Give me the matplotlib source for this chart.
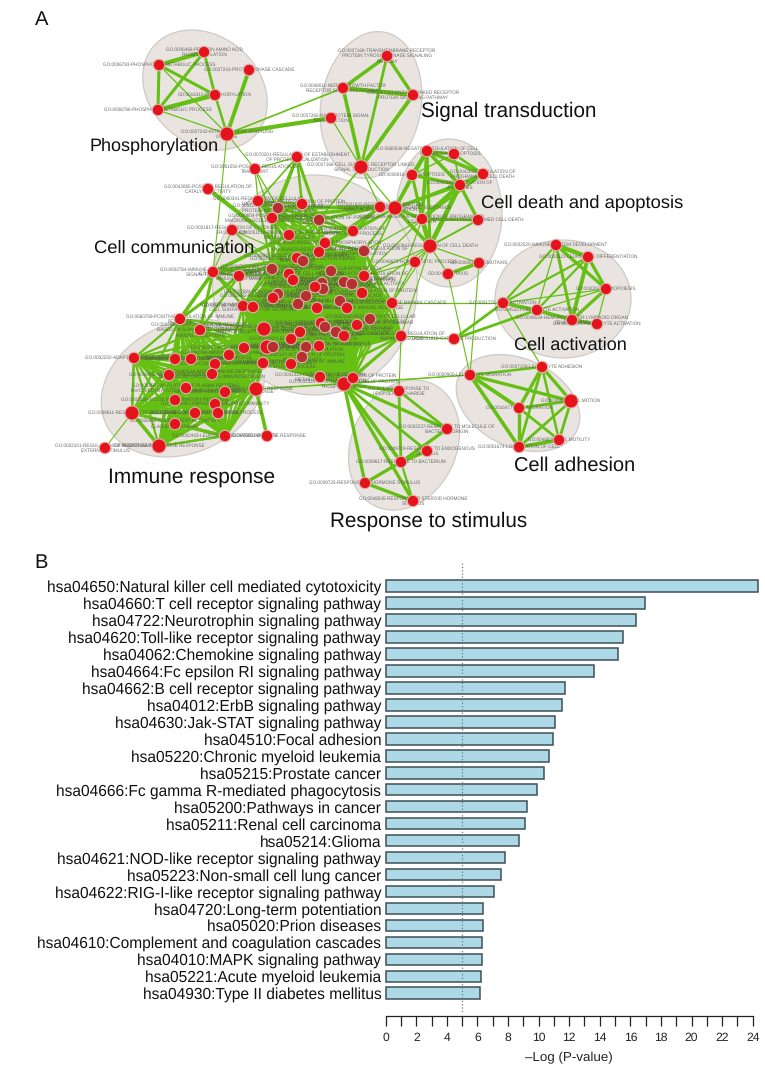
import itertools
import matplotlib
matplotlib.use('Agg')
import matplotlib.pyplot as plt
from matplotlib.collections import LineCollection
from matplotlib.patches import Ellipse

plt.rcParams['font.family'] = ['Liberation Sans', 'DejaVu Sans']
plt.rcParams['text.hinting'] = 'none'

# --- panel A: node positions, in image pixels ---
phos_x = [204, 159, 249, 215, 158, 227]
phos_y = [52, 65, 70, 95, 110, 134]
phos_labels = ['GO:0006468-PROTEIN AMINO ACID\nPHOSPHORYLATION',
               'GO:0006793-PHOSPHORUS METABOLIC PROCESS',
               'GO:0007243-PROTEIN KINASE CASCADE',
               'GO:0016310-PHOSPHORYLATION',
               'GO:0006796-PHOSPHATE METABOLIC PROCESS',
               'GO:0007242-INTRACELLULAR SIGNALING\nCASCADE']

sig_x = [387, 343, 413, 331, 361]
sig_y = [56, 88, 95, 118, 167]
sig_labels = ['GO:0007169-TRANSMEMBRANE RECEPTOR\nPROTEIN TYROSINE KINASE SIGNALING\nPATHWAY',
              'GO:0048011-NERVE GROWTH FACTOR\nRECEPTOR SIGNALING PATHWAY',
              'GO:0007167-ENZYME LINKED RECEPTOR\nPROTEIN SIGNALING PATHWAY',
              'GO:0007265-RAS PROTEIN SIGNAL\nTRANSDUCTION',
              'GO:0007166-CELL SURFACE RECEPTOR LINKED\nSIGNAL TRANSDUCTION']

death_x = [427, 454, 412, 483, 460, 422, 478, 430, 415, 479, 448]
death_y = [151, 154, 175, 174, 185, 219, 220, 246, 262, 263, 274]
death_labels = ['GO:0060548-NEGATIVE REGULATION OF CELL\nDEATH',
                'GO:0006915-APOPTOSIS',
                'GO:0006916-ANTI-APOPTOSIS',
                'GO:0043067-REGULATION OF\nPROGRAMMED CELL DEATH',
                'GO:0042981-REGULATION OF\nAPOPTOSIS',
                'GO:0043069-NEGATIVE REGULATION OF PROGRAMMED\nCELL DEATH',
                'GO:0012501-PROGRAMMED CELL DEATH',
                'GO:0010941-REGULATION OF CELL DEATH',
                'GO:0048872-HOMEOSTATIC PROCESS',
                'GO:0006935-CHEMOTAXIS',
                'GO:0042330-TAXIS']

act_x = [556, 588, 606, 503, 537, 572, 597]
act_y = [245, 257, 289, 303, 310, 320, 324]
act_labels = ['GO:0002520-IMMUNE SYSTEM DEVELOPMENT',
              'GO:0002521-LEUKOCYTE DIFFERENTIATION',
              'GO:0030097-HEMOPOIESIS',
              'GO:0001775-CELL ACTIVATION',
              'GO:0045321-LEUKOCYTE ACTIVATION',
              'GO:0048534-HEMOPOIETIC OR LYMPHOID ORGAN\nDEVELOPMENT',
              'GO:0046649-LYMPHOCYTE ACTIVATION']

adh_x = [470, 542, 571, 519, 559, 519]
adh_y = [375, 367, 401, 408, 440, 447]
adh_labels = ['GO:0050900-LEUKOCYTE MIGRATION',
              'GO:0007159-LEUKOCYTE ADHESION',
              'GO:0006928-CELL MOTION',
              'GO:0016477-CELL MIGRATION',
              'GO:0048870-CELL MOTILITY',
              'GO:0051674-LOCALIZATION OF CELL']

resp_x = [399, 447, 427, 401, 365, 413]
resp_y = [391, 429, 451, 462, 483, 501]
resp_labels = ['GO:0032496-RESPONSE TO\nLIPOPOLYSACCHARIDE',
               'GO:0002237-RESPONSE TO MOLECULE OF\nBACTERIAL ORIGIN',
               'GO:0009719-RESPONSE TO ENDOGENOUS\nSTIMULUS',
               'GO:0009617-RESPONSE TO BACTERIUM',
               'GO:0009725-RESPONSE TO HORMONE STIMULUS',
               'GO:0048545-RESPONSE TO STEROID HORMONE\nSTIMULUS']

upper_x = [297, 255, 208, 258, 278, 302, 272, 319, 232, 380, 395, 454]
upper_y = [157, 169, 189, 201, 208, 204, 218, 220, 230, 207, 208, 339]
upper_labels = ['GO:0070201-REGULATION OF ESTABLISHMENT\nOF PROTEIN LOCALIZATION',
                'GO:0051050-POSITIVE REGULATION OF\nTRANSPORT',
                'GO:0043085-POSITIVE REGULATION OF\nCATALYTIC ACTIVITY',
                'GO:0060341-REGULATION OF CELLULAR\nLOCALIZATION',
                'GO:0051246-REGULATION OF CELLULAR\nPROTEIN METABOLIC PROCESS',
                'GO:0031399-REGULATION OF PROTEIN\nMODIFICATION PROCESS',
                'GO:0010604-POSITIVE REGULATION OF\nMACROMOLECULE METABOLIC PROCESS',
                'GO:0031401-POSITIVE REGULATION OF PROTEIN\nMODIFICATION',
                'GO:0001817-REGULATION OF CYTOKINE\nPRODUCTION',
                'GO:0001932-REGULATION OF PROTEIN\nAMINO ACID PHOSPHORYLATION',
                'GO:0010033-RESPONSE TO ORGANIC SUBSTANCE',
                'GO:0001816-CYTOKINE PRODUCTION']

core_x = [289, 325, 319, 364, 297, 303, 272, 289, 293, 331, 364, 344, 352, 322, 323, 315, 362,
          278, 273, 306, 298, 340, 347, 392, 317, 243, 253, 264, 321, 325, 370, 357, 300, 336,
          344, 401, 291, 267, 273, 306, 319, 302, 291, 263, 320, 344, 353, 244, 229, 353]
core_y = [235, 243, 252, 251, 258, 261, 269, 274, 280, 271, 276, 282, 284, 283, 289, 287, 293,
          294, 298, 296, 304, 301, 308, 303, 308, 306, 307, 329, 323, 327, 319, 325, 332, 332,
          336, 336, 339, 347, 347, 347, 346, 357, 364, 363, 377, 384, 378, 348, 355, 231]
core_labels = ['GO:0051174-REGULATION OF PHOSPHORUS\nMETABOLIC PROCESS',
               'GO:0042325-REGULATION OF PHOSPHORYLATION',
               'GO:0019220-REGULATION OF PHOSPHATE\nMETABOLIC PROCESS',
               'GO:0042327-POSITIVE REGULATION OF\nPHOSPHORYLATION',
               'GO:0009967-POSITIVE REGULATION OF SIGNAL\nTRANSDUCTION',
               'GO:0010627-REGULATION OF PROTEIN KINASE\nCASCADE',
               'GO:0002757-IMMUNE RESPONSE-ACTIVATING\nSIGNAL TRANSDUCTION',
               'GO:0050865-REGULATION OF CELL ACTIVATION',
               'GO:0002696-POSITIVE REGULATION OF\nLEUKOCYTE ACTIVATION',
               'GO:0050867-POSITIVE REGULATION OF CELL\nACTIVATION',
               'GO:0051251-POSITIVE REGULATION OF\nLYMPHOCYTE ACTIVATION',
               'GO:0045859-REGULATION OF PROTEIN KINASE\nACTIVITY',
               'GO:0043549-REGULATION OF KINASE ACTIVITY',
               'GO:0051338-REGULATION OF TRANSFERASE\nACTIVITY',
               'GO:0033674-POSITIVE REGULATION OF KINASE\nACTIVITY',
               'GO:0045860-POSITIVE REGULATION OF PROTEIN\nKINASE ACTIVITY',
               'GO:0010740-POSITIVE REGULATION OF PROTEIN\nKINASE CASCADE',
               'GO:0002684-POSITIVE REGULATION OF IMMUNE\nSYSTEM PROCESS',
               'GO:0002682-REGULATION OF IMMUNE SYSTEM\nPROCESS',
               'GO:0007249-I-KAPPAB KINASE/NF-KAPPAB\nCASCADE',
               'GO:0043123-POSITIVE REGULATION OF I-KAPPAB\nKINASE/NF-KAPPAB CASCADE',
               'GO:0006954-INFLAMMATORY RESPONSE',
               'GO:0050776-REGULATION OF IMMUNE RESPONSE',
               'GO:0043408-REGULATION OF MAPKKK CASCADE',
               'GO:0000165-MAPKKK CASCADE',
               'GO:0007167-MONOCYTE ACTIVATION',
               'GO:0002768-IMMUNE RESPONSE-REGULATING\nCELL SURFACE RECEPTOR SIGNALING',
               'GO:0002429-IMMUNE RESPONSE-ACTIVATING CELL\nSURFACE RECEPTOR SIGNALING PATHWAY',
               'GO:0050863-REGULATION OF T CELL ACTIVATION',
               'GO:0051249-REGULATION OF LYMPHOCYTE\nACTIVATION',
               'GO:0032268-REGULATION OF CELLULAR\nPROTEIN METABOLIC PROCESS',
               'GO:0032270-POSITIVE REGULATION OF CELLULAR\nPROTEIN METABOLIC PROCESS',
               'GO:0002694-REGULATION OF LEUKOCYTE\nACTIVATION',
               'GO:0051247-POSITIVE REGULATION OF PROTEIN\nMETABOLIC PROCESS',
               'GO:0007243-PROTEIN KINASE CASCADE\nACTIVATION',
               'GO:0043410-POSITIVE REGULATION OF\nMAPKKK CASCADE',
               'GO:0002443-LEUKOCYTE ACTIVATION',
               'GO:0042113-B CELL ACTIVATION',
               'GO:0042110-T CELL ACTIVATION',
               'GO:0001934-POSITIVE REGULATION OF PROTEIN\nAMINO ACID PHOSPHORYLATION',
               'GO:0006468-ACTIVATION OF PROTEIN KINASE\nACTIVITY',
               'GO:0032147-ACTIVATION OF PROTEIN\nKINASE ACTIVITY',
               'GO:0050778-POSITIVE REGULATION OF IMMUNE\nRESPONSE PROCESS',
               'GO:0002252-IMMUNE EFFECTOR PROCESS',
               'GO:0031323-REGULATION OF CELLULAR\nMETABOLIC PROCESS',
               'GO:0031325-POSITIVE REGULATION OF PROTEIN\nPHOSPHORYLATION',
               'GO:0001817-REGULATION OF PROTEIN\nSECRETION',
               'GO:0002253-ACTIVATION OF IMMUNE RESPONSE',
               'GO:0002764-IMMUNOGLOBULIN MEDIATED\nIMMUNE RESPONSE',
               'GO:0031328-REGULATION OF\nBIOSYNTHETIC PROCESS']
core_dark = [3, 5, 6, 9, 11, 12, 13, 14, 17, 19, 20, 21, 30, 29, 33, 39, 38, 41]

imm_x = [213, 239, 180, 200, 134, 175, 191, 215, 169, 212, 186, 225, 256, 175, 132, 215, 218,
         195, 175, 225, 267, 159, 105]
imm_y = [272, 276, 319, 330, 358, 359, 359, 364, 375, 374, 388, 392, 389, 400, 413, 404, 413,
         413, 424, 436, 436, 446, 448]
imm_labels = ['GO:0002764-IMMUNE RESPONSE-REGULATING\nSIGNAL TRANSDUCTION',
              'GO:0002218-ACTIVATION OF INNATE\nIMMUNE RESPONSE',
              'GO:0060759-POSITIVE REGULATION OF IMMUNE\nRESPONSE',
              'GO:0002460-ADAPTIVE IMMUNE RESPONSE\nBASED ON SOMATIC RECOMBINATION\nIMMUNE RECEPTORS',
              'GO:0002250-ADAPTIVE IMMUNE RESPONSE',
              'GO:0016064-IMMUNOGLOBULIN MEDIATED',
              'GO:0019724-B CELL MEDIATED IMMUNITY',
              'GO:0006956-COMPLEMENT ACTIVATION',
              'GO:0019882-ANTIGEN PROCESSING',
              'GO:0002455-HUMORAL IMMUNE RESPONSE\nMEDIATED BY CIRCULATING IMMUNOGLOBULIN',
              'GO:0002541-ACTIVATION OF PLASMA PROTEINS\nINVOLVED IN ACUTE INFLAMMATORY RESPONSE',
              'GO:0006959-HUMORAL IMMUNE RESPONSE',
              'GO:0006955-IMMUNE RESPONSE',
              'GO:0002526-ACUTE INFLAMMATORY RESPONSE',
              'GO:0009611-RESPONSE TO WOUNDING',
              'GO:0002449-LYMPHOCYTE MEDIATED IMMUNITY',
              'GO:0045321-INNATE IMMUNE PROCESS',
              'GO:0006958-COMPLEMENT ACTIVATION,',
              'GO:0006958-COMPLEMENT ACTIVATION,\nCLASSICAL PATHWAY',
              'GO:0002443-LEUKOCYTE MEDIATED IMMUNITY',
              'GO:0006952-DEFENSE RESPONSE',
              'GO:0045087-INNATE IMMUNE RESPONSE',
              'GO:0002101-REGULATION OF RESPONSE TO\nEXTERNAL STIMULUS']

big_nodes = ['ph5', 'si4', 'up10', 'de7', 'im12', 'co27', 'co37', 'co45', 'im14', 'im21', 'ad2']

# edges inside the clusters: (from, to, width in points)
edges = [
    ('ph0', 'ph1', 3.0), ('ph0', 'ph3', 2.0), ('ph0', 'ph4', 2.2), ('ph1', 'ph3', 2.2), ('ph1', 'ph4', 2.2),
    ('ph3', 'ph4', 3.2), ('ph2', 'ph5', 2.8), ('ph3', 'ph5', 1.8), ('ph1', 'ph5', 0.9), ('ph4', 'ph5', 0.9),
    ('ph5', 'si3', 3.0), ('ph5', 'si1', 1.2), ('ph5', 'im0', 0.8), ('ph5', 'up1', 0.8),
    ('si0', 'si1', 2.6), ('si0', 'si2', 2.4), ('si0', 'si4', 2.0), ('si1', 'si2', 3.0), ('si1', 'si4', 2.6),
    ('si2', 'si4', 2.8), ('si3', 'si4', 0.9), ('si4', 'up7', 1.2), ('si4', 'up10', 0.9), ('si4', 'up9', 0.9),
    ('de0', 'de2', 2.8), ('de0', 'de4', 2.6), ('de0', 'de5', 2.6), ('de0', 'de7', 2.2), ('de0', 'de1', 1.8),
    ('de0', 'de3', 2.6), ('de1', 'de3', 1.8), ('de1', 'de4', 1.2), ('de3', 'de4', 2.4), ('de2', 'de4', 2.4),
    ('de2', 'de5', 2.0), ('de2', 'de7', 1.6), ('de4', 'de5', 3.2), ('de4', 'de7', 3.4), ('de5', 'de7', 3.4),
    ('de4', 'de6', 2.4), ('de5', 'de6', 2.0), ('de6', 'de7', 1.4), ('de3', 'de5', 1.6), ('de1', 'de2', 1.0),
    ('de7', 'up10', 2.6), ('de0', 'up10', 2.6), ('de4', 'up10', 2.6), ('de5', 'up10', 2.6), ('de2', 'up10', 1.8),
    ('de3', 'up10', 1.4), ('de7', 'de9', 0.9), ('de9', 'de10', 2.6), ('de7', 'de10', 0.9), ('de7', 'de8', 0.9),
    ('de10', 'ad0', 0.8), ('de9', 'ad0', 0.8),
    ('ac0', 'ac1', 3.2), ('ac0', 'ac2', 2.4), ('ac0', 'ac5', 2.2), ('ac0', 'ac4', 0.9), ('ac0', 'ac3', 1.6),
    ('ac1', 'ac2', 2.4), ('ac1', 'ac5', 2.8), ('ac1', 'ac3', 1.6), ('ac1', 'ac4', 1.6), ('ac2', 'ac5', 2.4),
    ('ac2', 'ac3', 0.9), ('ac2', 'ac6', 0.9), ('ac2', 'ac4', 0.9), ('ac3', 'ac4', 2.4), ('ac3', 'ac5', 1.6),
    ('ac4', 'ac5', 2.4), ('ac5', 'ac6', 2.4), ('ac4', 'ac6', 0.9), ('ac3', 'up11', 2.0), ('ac4', 'up11', 2.0),
    ('ac3', 'ad1', 0.9), ('ac3', 'co23', 0.9), ('up11', 'co35', 0.9), ('ad0', 'co45', 0.8),
    ('ad0', 'ad1', 1.8), ('ad0', 'ad2', 2.4), ('ad0', 'ad3', 2.8), ('ad0', 'ad5', 2.6), ('ad1', 'ad2', 2.4),
    ('ad1', 'ad3', 2.4), ('ad1', 'ad4', 1.8), ('ad1', 'ad5', 2.0), ('ad2', 'ad3', 2.0), ('ad2', 'ad4', 2.0),
    ('ad2', 'ad5', 2.0), ('ad3', 'ad4', 2.0), ('ad3', 'ad5', 2.4), ('ad4', 'ad5', 2.6),
    ('co45', 're0', 2.4), ('co45', 're1', 2.4), ('co45', 're2', 2.0), ('co45', 're3', 2.6), ('co45', 're4', 2.4),
    ('co45', 're5', 2.4), ('re0', 're1', 2.0), ('re0', 're3', 2.0), ('re1', 're3', 2.4), ('re2', 're3', 2.6),
    ('re3', 're4', 2.4), ('re3', 're5', 1.6), ('re4', 're5', 2.4), ('co35', 're0', 0.8),
    ('up0', 'up1', 0.9), ('up0', 'up3', 1.2), ('up0', 'up4', 2.2), ('up0', 'up6', 2.2), ('up0', 'up5', 1.8),
    ('up0', 'up7', 2.2), ('up1', 'up3', 0.9), ('up1', 'up4', 0.9), ('up1', 'up6', 0.9), ('up2', 'co4', 3.0),
    ('up8', 'co6', 0.8), ('up8', 'co4', 0.8), ('up8', 'co7', 0.8), ('up8', 'im0', 0.8), ('up9', 'up6', 2.6),
    ('up9', 'up4', 2.6), ('up9', 'up7', 2.2), ('up9', 'co49', 1.8), ('up9', 'co1', 1.4), ('up9', 'co2', 1.4),
    ('up10', 'co49', 1.4), ('up10', 'co3', 1.4), ('up10', 'co10', 1.2), ('up10', 'co1', 1.2), ('up10', 'co2', 1.2),
    ('de5', 'co3', 0.9), ('de5', 'co10', 0.9), ('de5', 'co23', 0.9), ('de7', 'co10', 0.9), ('de7', 'co16', 0.9),
    ('de7', 'co23', 0.9), ('de7', 'co35', 0.8), ('de8', 'co10', 0.9), ('de8', 'co23', 0.9),
    ('im0', 'co0', 2.6), ('im0', 'co4', 2.6), ('im0', 'co6', 1.8), ('im0', 'im2', 2.6), ('im0', 'im3', 2.2),
    ('im0', 'co25', 1.6), ('im0', 'co26', 1.6), ('im0', 'im1', 1.6), ('im0', 'co27', 1.6), ('im1', 'im2', 2.2),
    ('im1', 'im3', 1.6), ('im1', 'co4', 2.2), ('im1', 'co25', 1.2), ('im1', 'co7', 1.4), ('im2', 'im4', 0.8),
    ('im12', 'im20', 2.6), ('im12', 'im19', 2.6), ('im14', 'im21', 2.6), ('im14', 'im22', 0.8), ('im19', 'im21', 1.4),
    ('im12', 'co45', 0.8), ('im12', 'ad0', 0.8),
    ('im21', 'im9', 2.6), ('im21', 'im10', 2.6), ('im21', 'im13', 2.6), ('im21', 'im15', 2.6), ('im21', 'im16', 2.6),
    ('im21', 'im17', 2.6), ('im19', 'im9', 2.4), ('im19', 'im10', 2.4), ('im19', 'im15', 2.4), ('im19', 'im13', 2.4),
    ('im19', 'im18', 2.4), ('im14', 'im10', 2.2), ('im14', 'im13', 2.2), ('im14', 'im15', 2.2), ('im14', 'im19', 2.2),
    ('im4', 'im9', 1.6), ('im4', 'im11', 1.6), ('im4', 'im14', 1.6), ('im12', 'im3', 2.0), ('im12', 'im2', 1.6),
]

# groups where nearly every node is linked to every other one
upper_group = ['up3', 'up4', 'up5', 'up6', 'up7', 'co0', 'co1', 'co2', 'co4', 'co6', 'co49']
core_group = ['co%d' % i for i in range(50) if i != 49]
immune_group = ['im2', 'im3', 'im4', 'im5', 'im6', 'im7', 'im8', 'im9', 'im10', 'im11', 'im12', 'im13',
                'im14', 'im15', 'im16', 'im17', 'im18', 'im19', 'im21', 'co27', 'co37', 'co43', 'co47', 'co48']

# ellipses behind the clusters: centre x, centre y, width, height, angle
blob_x = [205, 371, 449, 563, 518, 404, 183, 315]
blob_y = [90, 105, 213, 299, 403, 445, 388, 285]
blob_w = [135, 100, 106, 136, 130, 105, 170, 205]
blob_h = [108, 148, 148, 118, 88, 135, 130, 220]
blob_angle = [40, 10, 0, 0, 25, 25, -25, 0]

cluster_names = ['Phosphorylation', 'Signal transduction', 'Cell death and apoptosis', 'Cell communication',
                 'Cell activation', 'Cell adhesion', 'Immune response', 'Response to stimulus']
cluster_x = [90, 421, 481, 94, 514, 514, 108, 330]
cluster_y = [146, 111, 203, 248, 345, 466, 477, 521]
cluster_size = [13.0, 14.9, 13.2, 13.2, 13.1, 14.4, 15.0, 14.9]

# --- panel B ---
pathways = ['hsa04650:Natural killer cell mediated cytotoxicity',
            'hsa04660:T cell receptor signaling pathway',
            'hsa04722:Neurotrophin signaling pathway',
            'hsa04620:Toll-like receptor signaling pathway',
            'hsa04062:Chemokine signaling pathway',
            'hsa04664:Fc epsilon RI signaling pathway',
            'hsa04662:B cell receptor signaling pathway',
            'hsa04012:ErbB signaling pathway',
            'hsa04630:Jak-STAT signaling pathway',
            'hsa04510:Focal adhesion',
            'hsa05220:Chronic myeloid leukemia',
            'hsa05215:Prostate cancer',
            'hsa04666:Fc gamma R-mediated phagocytosis',
            'hsa05200:Pathways in cancer',
            'hsa05211:Renal cell carcinoma',
            'hsa05214:Glioma',
            'hsa04621:NOD-like receptor signaling pathway',
            'hsa05223:Non-small cell lung cancer',
            'hsa04622:RIG-I-like receptor signaling pathway',
            'hsa04720:Long-term potentiation',
            'hsa05020:Prion diseases',
            'hsa04610:Complement and coagulation cascades',
            'hsa04010:MAPK signaling pathway',
            'hsa05221:Acute myeloid leukemia',
            'hsa04930:Type II diabetes mellitus']
log_p = [24.37, 16.94, 16.39, 15.50, 15.19, 13.60, 11.73, 11.55, 11.10, 10.96, 10.66, 10.38, 9.87,
         9.24, 9.09, 8.74, 7.83, 7.56, 7.06, 6.39, 6.37, 6.32, 6.30, 6.21, 6.19]
cutoff = 5

W, H = 765, 1070
fig = plt.figure(figsize=(W / 100, H / 100), dpi=100)

# panel A, drawn in image pixels
ax = fig.add_axes([0, 0, 1, 1])
ax.set_xlim(0, W)
ax.set_ylim(H, 0)
ax.axis('off')

for x, y, w, h, a in zip(blob_x, blob_y, blob_w, blob_h, blob_angle):
    ax.add_patch(Ellipse((x, y), w, h, angle=a, fc='#e9e4e0', ec='#cfcac6', lw=0.9, zorder=1))

pos = {}
labels = {}
for prefix, xs, ys, labs in [('ph', phos_x, phos_y, phos_labels), ('si', sig_x, sig_y, sig_labels),
                             ('de', death_x, death_y, death_labels), ('ac', act_x, act_y, act_labels),
                             ('ad', adh_x, adh_y, adh_labels), ('re', resp_x, resp_y, resp_labels),
                             ('up', upper_x, upper_y, upper_labels), ('co', core_x, core_y, core_labels),
                             ('im', imm_x, imm_y, imm_labels)]:
    for i in range(len(xs)):
        pos[prefix + str(i)] = (xs[i], ys[i])
        labels[prefix + str(i)] = labs[i]

green = '#66c014'
for group, lw in [(upper_group, 1.5), (core_group, 1.8), (immune_group, 1.6)]:
    segs = [(pos[a], pos[b]) for a, b in itertools.combinations(group, 2)]
    ax.add_collection(LineCollection(segs, colors=green, linewidths=lw, zorder=2))
ax.add_collection(LineCollection([(pos[a], pos[b]) for a, b, w in edges], colors=green,
                                 linewidths=[w for a, b, w in edges], zorder=2))

for name, (x, y) in pos.items():
    ax.text(x, y, labels[name], fontsize=3.35, color='#4f4f4f', alpha=0.85, ha='center', va='center',
            linespacing=1.25, zorder=3)

names = list(pos)
dark = ['co%d' % i for i in core_dark] + ['up4', 'up7']
ax.scatter([pos[n][0] for n in names], [pos[n][1] for n in names],
           s=[104 if n in big_nodes else 68 for n in names],
           c=['#b5302f' if n in dark else '#e5141c' for n in names],
           edgecolors='#dfb3b0', linewidths=0.8, zorder=4)

for name, x, y, size in zip(cluster_names, cluster_x, cluster_y, cluster_size):
    ax.text(x, y, name, fontsize=size, color='#111111', ha='left', va='center', zorder=5)
ax.text(35, 20, 'A', fontsize=14.5, color='#111111', ha='left', va='center')
ax.text(34, 563, 'B', fontsize=14.5, color='#111111', ha='left', va='center')

# panel B, its own axes placed so the scale lands on the same pixels
left, right = 385.7, 752.7
top, bottom = 563, 1016
axb = fig.add_axes([left / W, 1 - bottom / H, (right - left) / W, (bottom - top) / H])
axb.patch.set_alpha(0)
axb.set_xlim(0, 24)
axb.set_ylim((bottom - 586.2) / 16.96, (top - 586.2) / 16.96)
ypos = list(range(len(pathways)))
axb.barh(ypos, log_p, height=0.68, color='#add8e6', edgecolor='#3f5058', linewidth=1.1, clip_on=False, zorder=2)
axb.plot([cutoff, cutoff], [(top - 586.2) / 16.96, (1013 - 586.2) / 16.96], ls=':', color='#6f7f85',
         lw=0.9, zorder=3)

axb.set_yticks(ypos)
axb.set_yticklabels(pathways, fontsize=11.2, color='#111111')
axb.tick_params(axis='y', length=0, pad=3.2)
axb.set_xticks(range(0, 25))
axb.set_xticklabels([str(i) if i % 2 == 0 else '' for i in range(25)], fontsize=8.7, color='#222222')
axb.tick_params(axis='x', length=7, width=0.9, direction='out', pad=4.5, color='#222222')
for s in ['top', 'left', 'right']:
    axb.spines[s].set_visible(False)
axb.spines['bottom'].set_linewidth(0.9)
axb.spines['bottom'].set_color('#222222')
axb.set_xlabel('\u2013Log (P-value)', fontsize=9.6, color='#222222', labelpad=6)

fig.savefig('out.png', dpi=100)
